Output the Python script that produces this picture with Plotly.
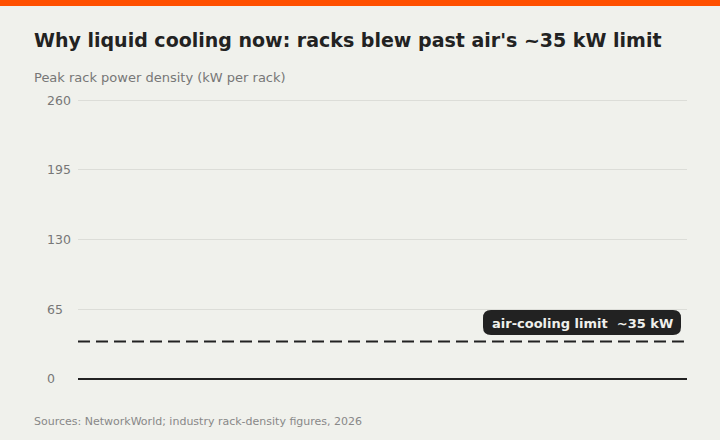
import plotly.graph_objects as go

# y axis ticks and the air-cooling threshold
y_ticks = [0, 65, 130, 195, 260]
air_limit_kw = 35
limit_label = "air-cooling limit  ~35 kW"

title = "Why liquid cooling now: racks blew past air's ~35 kW limit"
subtitle = "Peak rack power density (kW per rack)"
source = "Sources: NetworkWorld; industry rack-density figures, 2026"

W, H = 720, 440
L, R, T, B = 78, 33, 99, 60
ph = H - T - B
pw = W - L - R

def py(pix):
    # pixel row -> paper y
    return (H - B - pix) / ph

def px_(pix):
    return (pix - L) / pw

def rounded_box(x0, y0, x1, y1, r):
    # pixel box -> svg path in paper coords with rounded corners
    rx, ry = r / pw, r / ph
    a, b, c, d = px_(x0), py(y1), px_(x1), py(y0)
    return (f"M{a+rx},{b} L{c-rx},{b} Q{c},{b} {c},{b+ry} L{c},{d-ry} Q{c},{d} {c-rx},{d} "
            f"L{a+rx},{d} Q{a},{d} {a},{d-ry} L{a},{b+ry} Q{a},{b} {a+rx},{b} Z")

fig = go.Figure()

fig.add_trace(go.Scatter(x=[0, 1], y=[None, None], mode="lines", showlegend=False, hoverinfo="skip"))

fig.update_layout(
    width=W, height=H,
    margin=dict(l=L, r=R, t=T, b=B),
    paper_bgcolor="#f0f1ec",
    plot_bgcolor="#f0f1ec",
    font=dict(family="DejaVu Sans", color="#222"),
    showlegend=False,
    xaxis=dict(visible=False, range=[0, 1]),
    yaxis=dict(
        range=[-1, 261], tickvals=y_ticks, showticklabels=False,
        showgrid=True, gridcolor="#dcddd8", gridwidth=1,
        zeroline=False, showline=False, ticks="",
    ),
)

# left-aligned tick labels
for v in y_ticks:
    fig.add_annotation(x=px_(45), xref="paper", y=v, yref="y",
                       xanchor="left", yanchor="middle", showarrow=False,
                       text=str(v), font=dict(size=12.5, color="#777"))

# orange top strip
fig.add_shape(type="rect", xref="paper", yref="paper",
              x0=px_(0), x1=px_(W), y0=py(6), y1=py(0),
              fillcolor="#ff5000", line_width=0, layer="above")

# baseline
fig.add_shape(type="line", xref="paper", yref="y", x0=0, x1=1, y0=0, y1=0,
              line=dict(color="#222", width=2))

# air limit
fig.add_shape(type="line", xref="paper", yref="y", x0=0, x1=0.995,
              y0=air_limit_kw, y1=air_limit_kw,
              line=dict(color="#222", width=2, dash="12px,6px"))

# label pill
fig.add_shape(type="path", xref="paper", yref="paper",
              path=rounded_box(483, 310, 681, 335, 8),
              fillcolor="#222", line_width=0, layer="above")
fig.add_annotation(x=px_(582), xref="paper", y=py(323.5), yref="paper",
                   xanchor="center", yanchor="middle", showarrow=False,
                   text="<b>" + limit_label + "</b>",
                   font=dict(size=13, color="#f0f0ec"))

fig.add_annotation(x=px_(32), xref="paper", y=py(40), yref="paper",
                   xanchor="left", yanchor="middle", showarrow=False,
                   text="<b>" + title + "</b>", font=dict(size=19, color="#222"))
fig.add_annotation(x=px_(32), xref="paper", y=py(78), yref="paper",
                   xanchor="left", yanchor="middle", showarrow=False,
                   text=subtitle, font=dict(size=13, color="#777"))
fig.add_annotation(x=px_(32), xref="paper", y=py(421), yref="paper",
                   xanchor="left", yanchor="middle", showarrow=False,
                   text=source, font=dict(size=11, color="#888"))

fig.write_html("out.html", config={"displayModeBar": False},
               post_script="document.body.style.margin='0';")
